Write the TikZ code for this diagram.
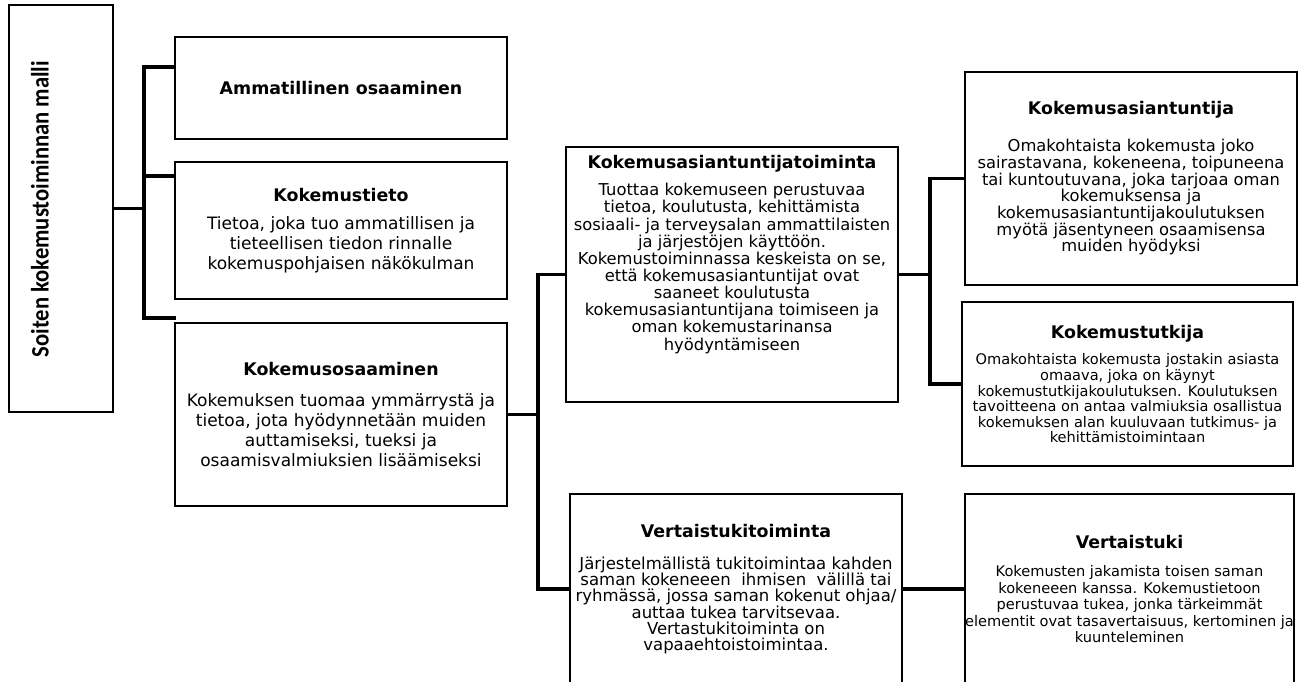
\documentclass[tikz,border=0pt]{standalone}
\usepackage{fontspec}
\setmainfont{DejaVu Sans}
\newfontfamily\sidefont{Carlito}[FakeStretch=0.9]
\usepackage{tikz}
\usetikzlibrary{calc,positioning}
\tikzstyle{box}    = [draw, rectangle, line width=0.8pt, align=center, inner sep=0pt, minimum width=6.64cm]
\tikzstyle{conn}   = [line width=1.8pt, line cap=rect]
\tikzstyle{bodyL}  = [font=\fontsize{9.7}{11.4}\selectfont]
\tikzstyle{bodyM}  = [font=\fontsize{9.3}{9.6}\selectfont]
\tikzstyle{bodyS}  = [font=\fontsize{8.3}{8.9}\selectfont]
\tikzstyle{bodyT}  = [font=\fontsize{8.3}{9.4}\selectfont]
\newcommand{\boxhead}[1]{{\bfseries\fontsize{9.9}{12}\selectfont #1}}

\begin{document}
\begin{tikzpicture}[x=0.02cm,y=-0.02cm]
        \useasboundingbox (0,0) rectangle (1298,681);
        \clip (0,0) rectangle (1298,681);

        \node[box, minimum width=2.08cm, minimum height=8.14cm] (root) at (61,208.5) {};
        \node[rotate=90, font=\sidefont\bfseries\fontsize{14.3}{16}\selectfont] (title) at (40,209) {Soiten kokemustoiminnan malli};

        \node[box, bodyL, minimum height=2.04cm] (amm) at (341,88) {\boxhead{Ammatillinen osaaminen}};
        \node[box, bodyL, minimum height=2.74cm] (tieto) at (341,230.5) {\boxhead{Kokemustieto}\\[4.6pt]
                Tietoa, joka tuo ammatillisen ja\\ tieteellisen tiedon rinnalle\\ kokemuspohjaisen näkökulman};
        \node[box, bodyL, minimum height=3.66cm] (osaam) at (341,414.5) {\boxhead{Kokemusosaaminen}\\[6.3pt]
                Kokemuksen tuomaa ymmärrystä ja\\ tietoa, jota hyödynnetään muiden\\ auttamiseksi, tueksi ja\\ osaamisvalmiuksien lisäämiseksi};

        \node[box, bodyM, font=\fontsize{9.3}{9.75}\selectfont, minimum height=5.10cm] (asiantoim) at (732,274.5) {\boxhead{Kokemusasiantuntijatoiminta}\\[5.7pt]
                Tuottaa kokemuseen perustuvaa\\ tietoa, koulutusta, kehittämista\\ sosiaali- ja terveysalan ammattilaisten\\
                ja järjestöjen käyttöön.\\ Kokemustoiminnassa keskeista on se,\\ että kokemusasiantuntijat ovat\\
                saaneet koulutusta\\ kokemusasiantuntijana toimiseen ja\\ oman kokemustarinansa\\ hyödyntämiseen\\[15pt]};
        \node[box, bodyM, font=\fontsize{9.4}{9.3}\selectfont, minimum height=3.80cm] (vertoim) at (736,589) {\boxhead{Vertaistukitoiminta}\\[8.9pt]
                Järjestelmällistä tukitoimintaa kahden\\ saman kokeneeen~ ihmisen~ välillä tai\\ ryhmässä, jossa saman kokenut ohjaa/\\
                auttaa tukea tarvitsevaa.\\ Vertastukitoiminta on\\ vapaaehtoistoimintaa.};

        \node[box, bodyM, font=\fontsize{9.3}{9.5}\selectfont, minimum height=4.26cm] (asiant) at (1131,178.5) {\boxhead{Kokemusasiantuntija}\\[11.4pt]
                Omakohtaista kokemusta joko\\ sairastavana, kokeneena, toipuneena\\ tai kuntoutuvana, joka tarjoaa oman\\
                kokemuksensa ja\\ kokemusasiantuntijakoulutuksen\\ myötä jäsentyneen osaamisensa\\ muiden hyödyksi};
        \node[box, bodyS, minimum width=6.62cm, minimum height=3.28cm] (tutkija) at (1127.5,384) {\boxhead{Kokemustutkija}\\[6.3pt]
                Omakohtaista kokemusta jostakin asiasta\\ omaava, joka on käynyt\\ kokemustutkijakoulutuksen. Koulutuksen\\
                tavoitteena on antaa valmiuksia osallistua\\ kokemuksen alan kuuluvaan tutkimus- ja\\ kehittämistoimintaan};
        \node[box, bodyT, minimum width=6.58cm, minimum height=3.80cm] (vertuki) at (1129.5,589) {\boxhead{Vertaistuki}\\[7pt]
                Kokemusten jakamista toisen saman\\ kokeneeen kanssa. Kokemustietoon\\ perustuvaa tukea, jonka tärkeimmät\\
                \makebox[6.4cm]{elementit ovat tasavertaisuus, kertominen ja}\\ kuunteleminen};

        \coordinate (s1) at (144,67);
        \coordinate (s2) at (144,176);
        \coordinate (s3) at (144,318);
        \coordinate (m1) at (538,274.5);
        \coordinate (m2) at (538,589);
        \coordinate (r1) at (930,178.5);
        \coordinate (r2) at (930,384);

        \draw[conn] (root.east) -- (root.east -| s1);
        \draw[conn] (s1) -- (s3);
        \draw[conn] (s1) -- (s1 -| amm.west);
        \draw[conn] (s2) -- (s2 -| tieto.west);
        \draw[conn] (s3) -- (s3 -| osaam.west);

        \draw[conn] (osaam.east) -- (osaam.east -| m1);
        \draw[conn] (m1) -- (m2);
        \draw[conn] (m1) -- (asiantoim.west);
        \draw[conn] (m2) -- (vertoim.west);

        \draw[conn] (asiantoim.east) -- (asiantoim.east -| r1);
        \draw[conn] (r1) -- (r2);
        \draw[conn] (r1) -- (asiant.west);
        \draw[conn] (r2) -- (tutkija.west);

        \draw[conn] (vertoim.east) -- (vertuki.west);
\end{tikzpicture}
\end{document}
